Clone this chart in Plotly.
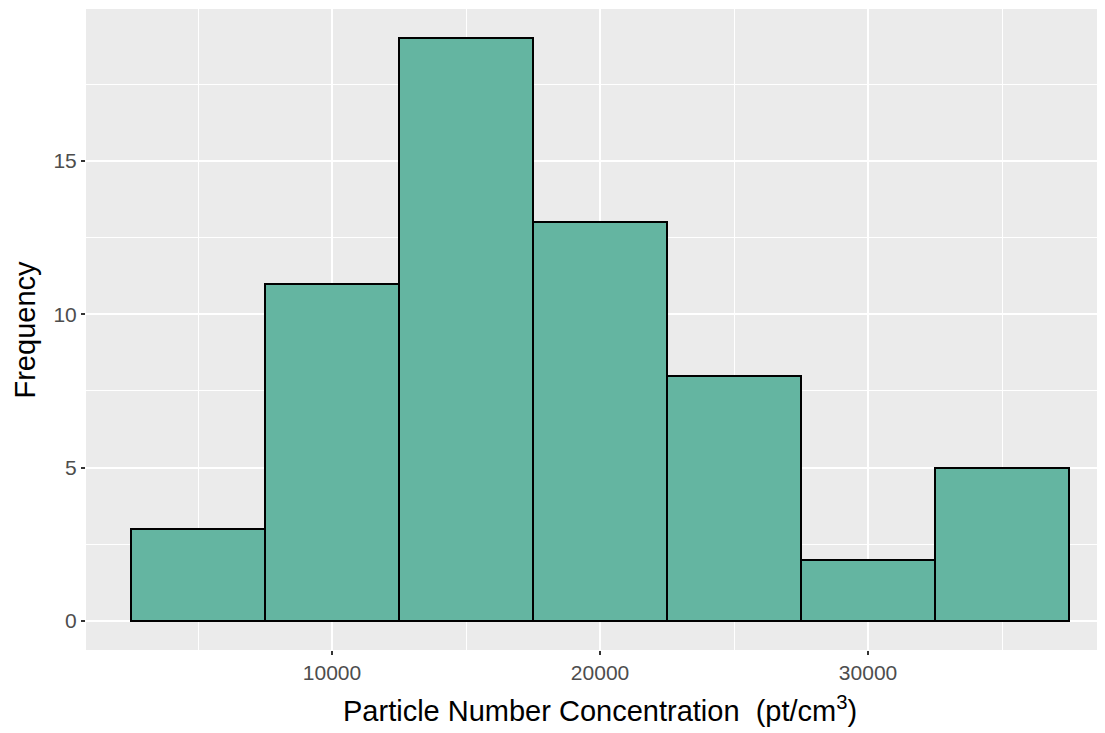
import plotly.graph_objects as go

bin_centers = [5000, 10000, 15000, 20000, 25000, 30000, 35000]
counts = [3, 11, 19, 13, 8, 2, 5]
bin_width = 5000
x_ticks = [10000, 20000, 30000]
y_ticks = [0, 5, 10, 15]
x_title = "Particle Number Concentration  (pt/cm<sup>3</sup>)"
y_title = "Frequency"

fig = go.Figure()
fig.add_trace(go.Bar(
    x=bin_centers, y=counts, width=[bin_width] * len(bin_centers),
    marker=dict(color="#64b5a1", line=dict(color="black", width=2)),
    showlegend=False,
))

fig.update_layout(
    width=1097, height=725,
    margin=dict(l=78, r=0, t=1, b=83),
    paper_bgcolor="white", plot_bgcolor="#EBEBEB",
    font=dict(family="Liberation Sans, Arial, sans-serif", color="#4d4d4d"),
    bargap=0,
    annotations=[
        dict(text=x_title, xref="paper", yref="paper", x=0.5, y=0, xshift=4, yshift=-59,
             xanchor="center", yanchor="middle", showarrow=False,
             font=dict(size=29, color="black")),
        dict(text=y_title, xref="paper", yref="paper", x=0, y=0.5, xshift=-62,
             xanchor="center", yanchor="middle", textangle=-90, showarrow=False,
             font=dict(size=29, color="black")),
    ],
)
fig.update_xaxes(
    range=[820, 38840], tickvals=x_ticks, ticktext=[str(v) for v in x_ticks],
    showgrid=True, gridcolor="white", gridwidth=2,
    minor=dict(tickvals=[5000, 15000, 25000, 35000], showgrid=True, gridcolor="white", gridwidth=1, ticks=""),
    ticks="outside", ticklen=4, tickwidth=1.5, tickcolor="#333333",
    tickfont=dict(size=21, color="#4d4d4d"), zeroline=False, showline=False,
)
fig.update_yaxes(
    range=[-0.95, 19.95], tickvals=y_ticks, ticktext=[str(v) for v in y_ticks],
    showgrid=True, gridcolor="white", gridwidth=2,
    minor=dict(tickvals=[2.5, 7.5, 12.5, 17.5], showgrid=True, gridcolor="white", gridwidth=1, ticks=""),
    ticks="outside", ticklen=4, tickwidth=1.5, tickcolor="#333333",
    tickfont=dict(size=21, color="#4d4d4d"), zeroline=False, showline=False,
)

fig.write_html("out.html")
